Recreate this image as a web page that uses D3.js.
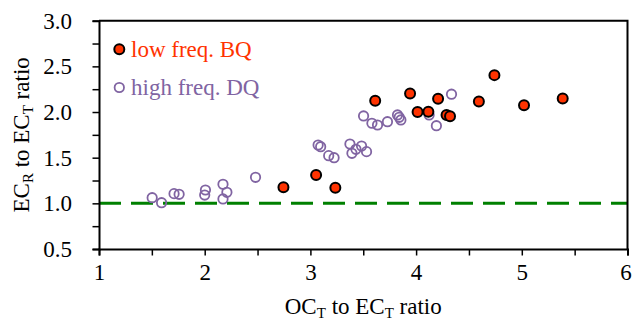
<!DOCTYPE html>
<html>
<head>
<meta charset="utf-8">
<script src="https://cdn.jsdelivr.net/npm/d3@7.9.0/dist/d3.min.js"></script>
<style>
  body { margin: 0; background: #fff; }
  svg { display: block; font-family: "Liberation Serif", "Times New Roman", serif; }
</style>
</head>
<body>
<svg id="chart" width="632" height="323"></svg>
<script>
// low freq. BQ (filled red)
const bqOC = [2.745, 3.054, 3.236, 3.613, 3.943, 4.014, 4.116, 4.208, 4.288, 4.321, 4.594, 4.741, 5.021, 5.387];
const bqEC = [1.176, 1.310, 1.171, 2.124, 2.203, 2.001, 2.003, 2.146, 1.968, 1.953, 2.115, 2.404, 2.074, 2.148];

// high freq. DQ (open purple)
const dqOC = [1.503, 1.592, 1.710, 1.758, 2.007, 2.000, 2.173, 2.210, 2.173, 2.481,
              3.073, 3.097, 3.173, 3.224, 3.374, 3.431, 3.484, 3.531, 3.393,
              3.503, 3.582, 3.635, 3.729, 3.824, 3.840, 3.856, 4.123, 4.192, 4.335];
const dqEC = [1.062, 1.007, 1.106, 1.099, 1.146, 1.091, 1.209, 1.121, 1.048, 1.285,
              1.639, 1.620, 1.522, 1.500, 1.650, 1.592, 1.628, 1.566, 1.548,
              1.957, 1.877, 1.858, 1.894, 1.968, 1.942, 1.913, 1.968, 1.850, 2.195];

const xTicks = [1, 2, 3, 4, 5, 6];
const yTicks = [0.5, 1.0, 1.5, 2.0, 2.5, 3.0];
const refLine = 1.0;

const red = '#ff3300';
const purple = '#8064a2';

const svg = d3.select('#chart');
const margin = { top: 20.7, right: 4.5, bottom: 74, left: 99 };
const width = 632, height = 323;

const x = d3.scaleLinear().domain([1, 6]).range([margin.left, width - margin.right]);
const y = d3.scaleLinear().domain([0.5, 3]).range([height - margin.bottom, margin.top]);

// reference line at 1.0
svg.append('line')
  .attr('x1', x(1)).attr('x2', x(6))
  .attr('y1', y(refLine)).attr('y2', y(refLine))
  .attr('stroke', '#008000')
  .attr('stroke-width', 3)
  .attr('stroke-dasharray', '22,10');

// frame: top + right
svg.append('path')
  .attr('d', `M${x(1)},${y(3)}H${x(6)}V${y(0.5)}`)
  .attr('fill', 'none').attr('stroke', '#000').attr('stroke-width', 2);

// x axis
const xAxis = svg.append('g')
  .attr('transform', `translate(0,${y(0.5)})`)
  .call(d3.axisBottom(x).tickValues(d3.range(1, 6.01, 0.5)).tickSize(6.5)
    .tickFormat(d => xTicks.includes(d) ? d3.format('d')(d) : ''));
xAxis.select('.domain').attr('stroke-width', 2);
xAxis.selectAll('.tick line').attr('stroke-width', 1.5);
xAxis.selectAll('.tick text')
  .attr('font-size', 23).attr('font-family', 'Liberation Serif')
  .attr('fill', '#000').attr('y', 15).attr('dy', '0.71em')
  .attr('dx', d => d === 6 ? -2 : 0);

// y axis
const yAxis = svg.append('g')
  .attr('transform', `translate(${x(1)},0)`)
  .call(d3.axisLeft(y).tickValues(d3.range(0.5, 3.01, 0.25)).tickSize(6.5)
    .tickFormat(d => yTicks.some(t => Math.abs(t - d) < 1e-9) ? d3.format('.1f')(d) : ''));
yAxis.select('.domain').attr('stroke-width', 2);
yAxis.selectAll('.tick line').attr('stroke-width', 1.5);
yAxis.selectAll('.tick text')
  .attr('font-size', 23).attr('font-family', 'Liberation Serif')
  .attr('fill', '#000').attr('x', -27);

// points
const dq = dqOC.map((v, i) => ({ x: v, y: dqEC[i] }));
const bq = bqOC.map((v, i) => ({ x: v, y: bqEC[i] }));

svg.append('g').selectAll('circle').data(dq).join('circle')
  .attr('cx', d => x(d.x)).attr('cy', d => y(d.y)).attr('r', 4.7)
  .attr('fill', 'none').attr('stroke', purple).attr('stroke-width', 1.8);

svg.append('g').selectAll('circle').data(bq).join('circle')
  .attr('cx', d => x(d.x)).attr('cy', d => y(d.y)).attr('r', 5)
  .attr('fill', red).attr('stroke', '#000').attr('stroke-width', 2);

// legend
const legend = svg.append('g');
legend.append('circle').attr('cx', 119.3).attr('cy', 49.3).attr('r', 5)
  .attr('fill', red).attr('stroke', '#000').attr('stroke-width', 2);
legend.append('text').attr('x', 131).attr('y', 57).attr('font-size', 23)
  .attr('fill', red).text('low freq. BQ');
legend.append('circle').attr('cx', 119.3).attr('cy', 87.5).attr('r', 4.7)
  .attr('fill', 'none').attr('stroke', purple).attr('stroke-width', 1.8);
legend.append('text').attr('x', 131).attr('y', 95).attr('font-size', 23)
  .attr('fill', purple).text('high freq. DQ');

// axis titles with subscripts
function subTitle(sel, parts) {
  parts.forEach(([t, sub]) => {
    sel.append('tspan').text(t);
    if (sub) sel.append('tspan').attr('font-size', 15).attr('baseline-shift', '-25%').text(sub);
  });
}

const xTitle = svg.append('text')
  .attr('x', (x(1) + x(6)) / 2).attr('y', 314)
  .attr('text-anchor', 'middle').attr('font-size', 23).attr('fill', '#000');
subTitle(xTitle, [['OC', 'T'], [' to EC', 'T'], [' ratio']]);

const yTitle = svg.append('text')
  .attr('transform', `translate(29,${(y(0.5) + y(3)) / 2}) rotate(-90)`)
  .attr('text-anchor', 'middle').attr('font-size', 23).attr('fill', '#000');
subTitle(yTitle, [['EC', 'R'], [' to EC', 'T'], [' ratio']]);
</script>
</body>
</html>
